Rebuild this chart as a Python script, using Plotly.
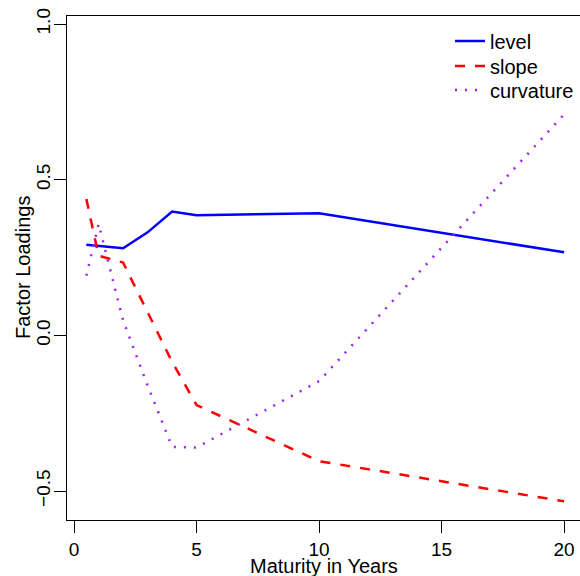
import plotly.graph_objects as go

maturity = [0.5, 1, 2, 3, 4, 5, 10, 20]
level = [0.291, 0.287, 0.280, 0.331, 0.398, 0.386, 0.392, 0.267]
slope = [0.438, 0.256, 0.234, 0.075, -0.085, -0.224, -0.404, -0.533]
curvature = [0.192, 0.358, 0.048, -0.161, -0.358, -0.360, -0.147, 0.710]

y_ticks = [-0.5, 0.0, 0.5, 1.0]
y_ticktext = ["\u22120.5", "0.0", "0.5", "1.0"]
x_ticks = [0, 5, 10, 15, 20]
x_title = "Maturity in Years"
y_title = "Factor Loadings"

FONT = "Liberation Sans, Arial, Helvetica, sans-serif"

# plot area in pixels: left 67, top 16, width 513, height 504
def px_x(px):
    return (px - 67) / 513

def px_y(py):
    return 1 - (py - 16) / 504

fig = go.Figure()
fig.add_trace(go.Scatter(x=maturity, y=level, mode="lines", name="level",
                         legend="legend",
                         line=dict(color="#0000FF", width=2.5)))
fig.add_trace(go.Scatter(x=maturity, y=slope, mode="lines", name="slope",
                         legend="legend2",
                         line=dict(color="#FF0000", width=2.5, dash="10px,10px")))
fig.add_trace(go.Scatter(x=maturity, y=curvature, mode="lines", name="curvature",
                         legend="legend3",
                         line=dict(color="#A020F0", width=2.5, dash="2px,8px")))

leg_common = dict(xanchor="left", yanchor="top", bgcolor="rgba(0,0,0,0)",
                  font=dict(size=20, family=FONT, color="black"), borderwidth=0)

fig.update_layout(
    width=580, height=576,
    margin=dict(l=67, r=0, t=16, b=56, autoexpand=False),
    paper_bgcolor="white", plot_bgcolor="white",
    font=dict(family=FONT, size=19, color="black"),
    showlegend=True,
    legend=dict(x=px_x(450), y=px_y(21.5), **leg_common),
    legend2=dict(x=px_x(450), y=px_y(46.5), **leg_common),
    legend3=dict(x=px_x(450), y=px_y(70.5), **leg_common),
    xaxis=dict(range=[-0.29, 20.65], tickvals=x_ticks, ticks="outside", ticklen=12,
               tickcolor="black", showline=True, linecolor="black", linewidth=1,
               mirror=True, showgrid=False, zeroline=False, automargin=False,
               tickfont=dict(size=19)),
    yaxis=dict(range=[-0.593, 1.026], tickvals=y_ticks, ticktext=y_ticktext,
               ticks="outside", ticklen=12, tickcolor="black", tickangle=-90,
               ticklabelstandoff=-4,
               showline=True, linecolor="black", linewidth=1, mirror=False,
               showgrid=False, zeroline=False, automargin=False,
               tickfont=dict(size=19)),
    annotations=[
        dict(text=x_title, xref="paper", yref="paper", x=0.5, y=px_y(566),
             xanchor="center", yanchor="middle", showarrow=False,
             font=dict(size=20, family=FONT, color="black")),
        dict(text=y_title, xref="paper", yref="paper", x=px_x(23), y=0.5,
             xanchor="center", yanchor="middle", showarrow=False, textangle=-90,
             font=dict(size=20, family=FONT, color="black")),
    ],
)

fig.write_html("out.html")
